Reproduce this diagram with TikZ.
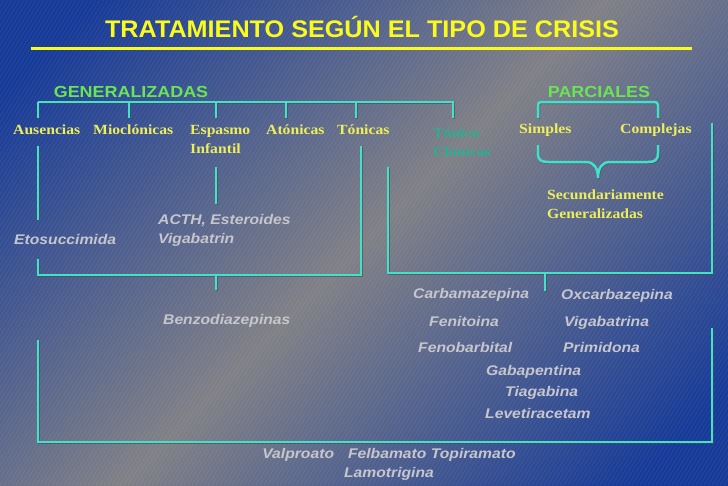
\documentclass[tikz,border=0pt]{standalone}
\usepackage{fontspec}
\setmainfont{Liberation Serif}[FakeStretch=1.12]
\newfontfamily\arialfont{Liberation Sans}[FakeStretch=1.12]
\newfontfamily\titlefont{Liberation Sans}[FakeStretch=1.05]
\usepackage{xcolor}
\usetikzlibrary{positioning}
\definecolor{bgblue}{RGB}{22,58,152}
\definecolor{bggray}{RGB}{128,128,134}
\definecolor{titleyellow}{RGB}{250,250,30}
\definecolor{headgreen}{RGB}{105,228,85}
\definecolor{labelyellow}{RGB}{238,238,90}
\definecolor{lineteal}{RGB}{64,226,204}
\definecolor{clonteal}{RGB}{40,175,148}
\definecolor{druggray}{RGB}{198,198,204}
\tikzset{
    title/.style={font=\titlefont\bfseries\fontsize{24}{28}\selectfont, text=titleyellow, anchor=base},
    heading/.style={font=\arialfont\bfseries\fontsize{16}{19}\selectfont, text=headgreen, anchor=base},
    crisis/.style={font=\bfseries\fontsize{14}{19}\selectfont, text=labelyellow, align=left, inner sep=0pt, anchor=base west},
    drug/.style={font=\arialfont\bfseries\itshape\fontsize{14}{19}\selectfont, text=druggray, align=left, inner sep=0pt, anchor=base west},
    bracket/.style={draw=lineteal, line width=2.5pt,
        preaction={draw=black!70, opacity=0.6, line width=2.5pt, transform canvas={xshift=0.8pt, yshift=-0.8pt}}},
    rule/.style={draw=titleyellow, line width=3pt},
    stripe/.style={draw=white, opacity=0.07, line width=0.7pt}
}

\begin{document}
\begin{tikzpicture}[x=1pt, y=-1pt]
    % Background
    \useasboundingbox (0,0) rectangle (728,485);
    \begin{scope}
        \clip (0,0) rectangle (728,485);
        \shade[left color=bgblue, right color=bgblue, middle color=bggray, shading angle=45] (0,-122) rectangle (728,606);
        \foreach \s in {-300,-296,...,728}
            \draw[stripe] (\s,485) -- ++(300,-485);
    \end{scope}

    % Title
    \node[title] (title) at (362,37.5) {TRATAMIENTO SEGÚN EL TIPO DE CRISIS};
    \coordinate (ruleL) at (31,48);
    \coordinate (ruleR) at (692,48);
    \draw[rule] (ruleL) -- (ruleR);

    % Headings
    \node[heading] (gen) at (131,97) {GENERALIZADAS};
    \node[heading] (par) at (599,97) {PARCIALES};

    % Crisis types
    \node[crisis] (aus) at (13,134) {Ausencias};
    \node[crisis] (mio) at (93,134) {Mioclónicas};
    \node[crisis] (esp) at (190,153) {Espasmo\\Infantil};
    \node[crisis] (ato) at (266,134) {Atónicas};
    \node[crisis] (ton) at (337,134) {Tónicas};
    \node[crisis, text=clonteal] (tcl) at (433,156) {Tónico\\Clónicas};
    \node[crisis] (sim) at (519,133) {Simples};
    \node[crisis] (com) at (620,133) {Complejas};
    \node[crisis] (sec) at (547,218) {Secundariamente\\Generalizadas};

    % Generalizadas bracket
    \coordinate (genL) at (38,102);
    \coordinate (genR) at (453,102);
    \draw[bracket] (genL) -- (genR) -- ++(0,16);
    \foreach \x in {38,129,216,286,356}
        \draw[bracket] (\x,102) -- (\x,118);

    % Parciales bracket and brace
    \coordinate (parL) at (538,102);
    \coordinate (parR) at (658,102);
    \draw[bracket, rounded corners=3pt] (538,118) -- (parL) -- (parR) -- (658,118);
    \coordinate (brace) at (598,178);
    \draw[bracket] (538,145) -- (538,153) .. controls (538,160) and (541,162) .. (548,162)
        -- (586,162) .. controls (594,162) and (598,168) .. (brace)
        .. controls (598,168) and (602,162) .. (610,162)
        -- (648,162) .. controls (655,162) and (658,160) .. (658,153) -- (658,145);

    % Drugs
    \node[drug] (eto) at (14,244) {Etosuccimida};
    \node[drug] (acth) at (158,243) {ACTH, Esteroides\\Vigabatrin};
    \node[drug] (benzo) at (163,324) {Benzodiazepinas};
    \node[drug] (carba) at (413,298) {Carbamazepina};
    \node[drug] (oxc) at (561,299) {Oxcarbazepina};
    \node[drug] (feni) at (429,326) {Fenitoina};
    \node[drug] (viga) at (564,326) {Vigabatrina};
    \node[drug] (fenob) at (418,352) {Fenobarbital};
    \node[drug] (primi) at (563,352) {Primidona};
    \node[drug] (gaba) at (486,375) {Gabapentina};
    \node[drug] (tiag) at (505,396) {Tiagabina};
    \node[drug] (leve) at (485,418) {Levetiracetam};
    \node[drug, align=center, anchor=base] (valp) at (389,477) {Valproato\quad Felbamato Topiramato\\Lamotrigina};

    % Generalizadas treatment bracket
    \coordinate (gtL) at (38,275);
    \coordinate (gtR) at (361,275);
    \draw[bracket] (38,146) -- (38,220);
    \draw[bracket] (38,259) -- (gtL) -- (gtR) -- (361,146);
    \draw[bracket] (216,167) -- (216,204);
    \draw[bracket] (216,275) -- (216,290);

    % Parciales treatment bracket
    \coordinate (ptL) at (388,273);
    \coordinate (ptR) at (712,273);
    \draw[bracket] (388,167) -- (ptL) -- (ptR) -- (712,123);
    \draw[bracket] (545,273) -- (545,291);

    % Common bracket
    \coordinate (allL) at (38,442);
    \coordinate (allR) at (712,442);
    \draw[bracket] (38,340) -- (allL) -- (allR) -- (712,328);
\end{tikzpicture}
\end{document}
